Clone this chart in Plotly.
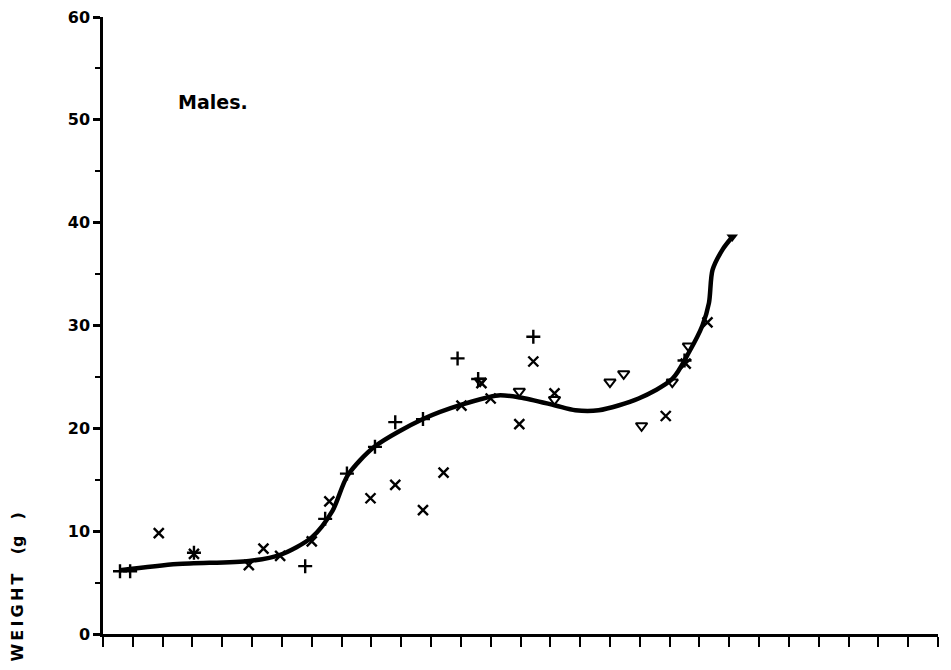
import plotly.graph_objects as go

# x-axis ticks (unlabelled), 0..28
x_ticks = list(range(0, 29))

# Data (x in tick units, y = weight in g)
cross_x = [1.87, 3.05, 4.89, 5.38, 5.94, 7.0, 7.59, 8.97, 9.8, 10.73, 11.42, 12.02, 12.69, 13.0, 13.96, 14.43, 15.14, 18.87, 19.54, 20.27]
cross_y = [9.8, 7.8, 6.7, 8.3, 7.6, 9.0, 12.9, 13.2, 14.5, 12.05, 15.7, 22.2, 24.4, 22.9, 20.4, 26.5, 23.4, 21.2, 26.3, 30.3]

plus_x = [0.57, 0.91, 3.05, 6.78, 7.45, 8.18, 9.12, 9.8, 10.73, 11.89, 12.58, 14.43, 19.5]
plus_y = [6.1, 6.1, 7.9, 6.6, 11.2, 15.6, 18.2, 20.6, 20.9, 26.8, 24.8, 28.9, 26.6]

tri_x = [12.65, 13.96, 15.14, 17.0, 17.46, 18.06, 19.09, 19.63]
tri_y = [24.6, 23.6, 22.8, 24.5, 25.3, 20.25, 24.5, 28.0]

curve_x = [0.57, 2.5, 4.9, 5.94, 7.0, 7.7, 8.2, 9.1, 10.73, 12.02, 13.25, 13.98, 15.14, 15.84, 16.62, 17.96, 19.09, 19.65, 20.1, 20.32, 20.44, 20.78, 21.1]
curve_y = [6.2, 6.8, 7.1, 7.7, 9.4, 12.0, 15.4, 18.2, 20.9, 22.3, 23.2, 23.0, 22.25, 21.76, 21.76, 22.9, 24.8, 27.4, 30.0, 32.2, 35.4, 37.4, 38.6]

end_x = [21.1]
end_y = [38.6]

y_major = [0, 10, 20, 30, 40, 50, 60]
y_minor = [5, 15, 25, 35, 45, 55]

FONT = "DejaVu Sans, Liberation Sans, Arial, sans-serif"

fig = go.Figure()
fig.add_trace(go.Scatter(x=curve_x, y=curve_y, mode="lines",
                         line=dict(color="black", width=4.5, shape="spline", smoothing=0.8),
                         hoverinfo="skip"))
fig.add_trace(go.Scatter(x=cross_x, y=cross_y, mode="markers",
                         marker=dict(symbol="x-thin", size=10, color="black",
                                     line=dict(color="black", width=2.4))))
fig.add_trace(go.Scatter(x=plus_x, y=plus_y, mode="markers",
                         marker=dict(symbol="cross-thin", size=10, color="black",
                                     line=dict(color="black", width=2.4))))
fig.add_trace(go.Scatter(x=tri_x, y=tri_y, mode="markers",
                         marker=dict(symbol="triangle-down-open", size=10, color="black",
                                     line=dict(color="black", width=2))))
fig.add_trace(go.Scatter(x=end_x, y=end_y, mode="markers",
                         marker=dict(symbol="triangle-down", size=10, color="black")))

fig.add_annotation(x=2.45, y=51.7, xref="x", yref="y", text="<b>Males.</b>",
                   showarrow=False, xanchor="left", yanchor="middle",
                   font=dict(family=FONT, size=19, color="black"))
ylab = "\u2009".join("WEIGHT") + "\u2003\u2009(g\u2003)"
fig.add_annotation(x=-0.1018, y=-0.047, xref="paper", yref="paper",
                   text="<b>" + ylab + "</b>", textangle=-90,
                   showarrow=False, xanchor="center", yanchor="bottom",
                   font=dict(family=FONT, size=16, color="black"))

fig.update_xaxes(range=[0, 28], tickmode="array", tickvals=x_ticks, ticktext=[""] * len(x_ticks),
                 ticks="outside", ticklen=10, tickwidth=2, tickcolor="black",
                 showline=True, linecolor="black", linewidth=2.5,
                 showgrid=False, zeroline=False, automargin=False)
fig.update_yaxes(range=[0, 60], tickmode="array", tickvals=y_major,
                 ticktext=[str(v) for v in y_major],
                 ticks="outside", ticklen=7, tickwidth=2.5, tickcolor="black",
                 minor=dict(tickvals=y_minor, ticks="outside", ticklen=5,
                            tickwidth=2, tickcolor="black"),
                 tickfont=dict(family=FONT, size=16, color="black", weight="bold"),
                 ticklabeloverflow="allow",
                 showline=True, linecolor="black", linewidth=2.5,
                 showgrid=False, zeroline=False, automargin=False)

# page body has an 8px default margin, so the figure is sized/shifted to compensate
fig.update_layout(width=943, height=662, showlegend=False,
                  plot_bgcolor="white", paper_bgcolor="white",
                  margin=dict(l=95, r=13, t=9, b=36))

fig.write_html("out.html")
